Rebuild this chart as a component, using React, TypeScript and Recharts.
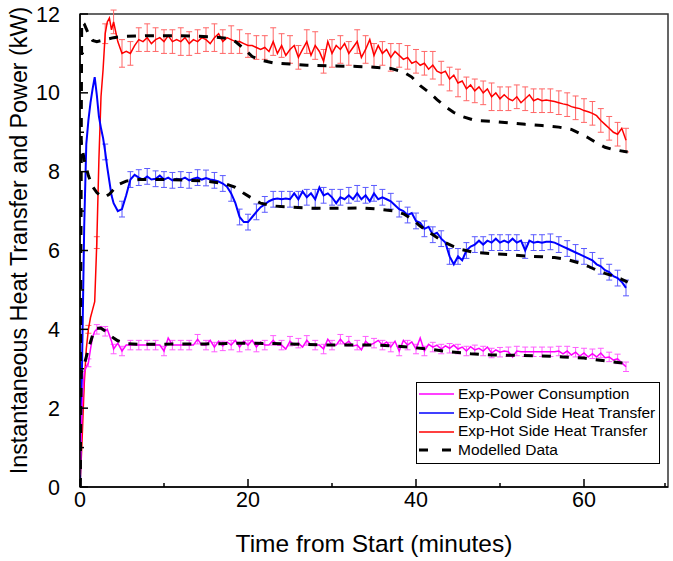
import React from 'react';
import { LineChart, Line, XAxis, YAxis, ErrorBar, ReferenceArea, Legend } from 'recharts';

// [minutes, kW]
const hotSide: [number, number][] = [
  [0, 0], [0.25, 1.2], [0.5, 2.6], [0.75, 3.5], [1, 4.0], [1.25, 4.3], [1.5, 4.5], [1.75, 4.7], [2, 6.2], [2.25, 8.3],
  [2.5, 9.9], [2.75, 10.6], [3, 11.5], [3.25, 11.8], [3.5, 11.9], [3.75, 11.6], [4, 11.8], [4.5, 11.3], [5, 11.0], [5.5, 11.05],
  [6, 11.0], [6.5, 11.2], [7, 11.35], [7.5, 11.3], [8, 11.4], [8.5, 11.25], [9, 11.35], [9.5, 11.4], [10, 11.3], [10.5, 11.45],
  [11, 11.3], [11.5, 11.35], [12, 11.3], [12.5, 11.4], [13, 11.25], [13.5, 11.35], [14, 11.3], [14.5, 11.4], [15, 11.35], [15.5, 11.25],
  [16, 11.4], [16.5, 11.5], [17, 11.3], [17.5, 11.4], [18, 11.35], [18.5, 11.3], [19, 11.3], [19.5, 11.25], [20, 11.2], [20.5, 11.2],
  [21, 11.15], [21.5, 11.1], [22, 11.15], [22.5, 11.05], [23, 11.3], [23.5, 11.0], [24, 11.2], [24.5, 10.95], [25, 11.1], [25.5, 11.2],
  [26, 10.9], [26.5, 11.1], [27, 11.3], [27.5, 10.95], [28, 11.2], [28.5, 11.05], [29, 10.8], [29.5, 11.3], [30, 11.0], [30.5, 11.2],
  [31, 11.1], [31.5, 11.25], [32, 11.0], [32.5, 11.15], [33, 11.3], [33.5, 10.9], [34, 11.1], [34.5, 11.35], [35, 10.95], [35.5, 11.2],
  [36, 11.0], [36.5, 11.1], [37, 10.9], [37.5, 11.05], [38, 10.95], [38.5, 10.85], [39, 10.9], [39.5, 10.75], [40, 10.8], [40.5, 10.7],
  [41, 10.75], [41.5, 10.6], [42, 10.7], [42.5, 10.55], [43, 10.5], [43.5, 10.55], [44, 10.35], [44.5, 10.45], [45, 10.25], [45.5, 10.3],
  [46, 10.1], [46.5, 10.2], [47, 10.05], [47.5, 10.15], [48, 10.0], [48.5, 10.1], [49, 9.9], [49.5, 10.0], [50, 9.85], [50.5, 9.95],
  [51, 9.85], [51.5, 9.8], [52, 9.9], [52.5, 9.75], [53, 9.85], [53.5, 9.95], [54, 9.8], [54.5, 9.85], [55, 9.8], [55.5, 9.82],
  [56, 9.8], [56.5, 9.78], [57, 9.75], [57.5, 9.72], [58, 9.7], [58.5, 9.65], [59, 9.62], [59.5, 9.6], [60, 9.55], [60.5, 9.52],
  [61, 9.48], [61.5, 9.42], [62, 9.3], [62.5, 9.2], [63, 9.1], [63.5, 9.0], [64, 8.95], [64.5, 9.1], [65, 8.8],
];

const coldSide: [number, number][] = [
  [0, 0], [0.25, 3.2], [0.5, 6.6], [0.75, 8.7], [1, 9.3], [1.25, 9.75], [1.5, 10.1], [1.75, 10.4], [2, 9.95], [2.25, 9.4],
  [2.5, 9.1], [2.75, 8.85], [3, 8.5], [3.25, 8.1], [3.5, 7.75], [3.75, 7.4], [4, 7.2], [4.5, 7.0], [5, 7.05], [5.5, 7.4],
  [6, 7.8], [6.5, 7.92], [7, 7.85], [7.5, 7.8], [8, 7.88], [8.5, 7.8], [9, 7.82], [9.5, 7.9], [10, 7.8], [10.5, 7.85],
  [11, 7.78], [11.5, 7.82], [12, 7.8], [12.5, 7.85], [13, 7.78], [13.5, 7.82], [14, 7.85], [14.5, 7.8], [15, 7.84], [15.5, 7.8],
  [16, 7.78], [16.5, 7.75], [17, 7.7], [17.5, 7.62], [18, 7.45], [18.5, 7.2], [19, 6.85], [19.5, 6.72], [20, 6.72], [20.5, 6.85],
  [21, 6.98], [21.5, 7.1], [22, 7.17], [22.5, 7.25], [23, 7.3], [23.5, 7.32], [24, 7.3], [24.5, 7.32], [25, 7.3], [25.5, 7.45],
  [26, 7.3], [26.5, 7.5], [27, 7.35], [27.5, 7.45], [28, 7.3], [28.5, 7.6], [29, 7.4], [29.5, 7.45], [30, 7.35], [30.5, 7.2],
  [31, 7.35], [31.5, 7.3], [32, 7.4], [32.5, 7.3], [33, 7.45], [33.5, 7.3], [34, 7.4], [34.5, 7.25], [35, 7.45], [35.5, 7.3],
  [36, 7.35], [36.5, 7.3], [37, 7.25], [37.5, 7.15], [38, 7.05], [38.5, 7.0], [39, 6.9], [39.5, 6.95], [40, 6.75], [40.5, 6.7],
  [41, 6.55], [41.5, 6.6], [42, 6.4], [42.5, 6.45], [43, 6.3], [43.5, 6.2], [44, 5.85], [44.5, 5.65], [45, 5.85], [45.5, 5.75],
  [46, 6.0], [46.5, 6.1], [47, 6.15], [47.5, 6.25], [48, 6.15], [48.5, 6.25], [49, 6.2], [49.5, 6.3], [50, 6.2], [50.5, 6.25],
  [51, 6.2], [51.5, 6.3], [52, 6.2], [52.5, 6.25], [53, 6.0], [53.5, 6.25], [54, 6.2], [54.5, 6.22], [55, 6.2], [55.5, 6.22],
  [56, 6.22], [56.5, 6.2], [57, 6.15], [57.5, 6.1], [58, 6.05], [58.5, 6.0], [59, 5.95], [59.5, 5.9], [60, 5.85], [60.5, 5.8],
  [61, 5.75], [61.5, 5.65], [62, 5.6], [62.5, 5.5], [63, 5.45], [63.5, 5.35], [64, 5.3], [64.5, 5.2], [65, 5.05],
];

const powerUse: [number, number][] = [
  [0, 0.3], [0.25, 2.0], [0.5, 2.9], [0.75, 3.05], [1, 3.15], [1.25, 3.5], [1.5, 3.8], [1.75, 3.95], [2, 4.0], [2.25, 4.05],
  [2.5, 4.07], [2.75, 4.0], [3, 3.95], [3.25, 4.0], [3.5, 3.85], [3.75, 3.7], [4, 3.5], [4.5, 3.65], [5, 3.45], [5.5, 3.6],
  [6, 3.6], [6.5, 3.6], [7, 3.6], [7.5, 3.6], [8, 3.6], [8.5, 3.6], [9, 3.6], [9.5, 3.6], [10, 3.45], [10.5, 3.78],
  [11, 3.6], [11.5, 3.6], [12, 3.6], [12.5, 3.6], [13, 3.6], [13.5, 3.6], [14, 3.75], [14.5, 3.6], [15, 3.6], [15.5, 3.72],
  [16, 3.55], [16.5, 3.7], [17, 3.58], [17.5, 3.68], [18, 3.6], [18.5, 3.72], [19, 3.55], [19.5, 3.7], [20, 3.6], [20.5, 3.72],
  [21, 3.55], [21.5, 3.68], [22, 3.6], [22.5, 3.6], [23, 3.72], [23.5, 3.6], [24, 3.6], [24.5, 3.5], [25, 3.7], [25.5, 3.6],
  [26, 3.65], [26.5, 3.55], [27, 3.72], [27.5, 3.6], [28, 3.6], [28.5, 3.6], [29, 3.5], [29.5, 3.75], [30, 3.6], [30.5, 3.6],
  [31, 3.75], [31.5, 3.62], [32, 3.7], [32.5, 3.58], [33, 3.6], [33.5, 3.48], [34, 3.7], [34.5, 3.6], [35, 3.65], [35.5, 3.72],
  [36, 3.6], [36.5, 3.68], [37, 3.55], [37.5, 3.7], [38, 3.45], [38.5, 3.72], [39, 3.6], [39.5, 3.68], [40, 3.5], [40.5, 3.78],
  [41, 3.45], [41.5, 3.62], [42, 3.55], [42.5, 3.6], [43, 3.5], [43.5, 3.58], [44, 3.52], [44.5, 3.6], [45, 3.5], [45.5, 3.55],
  [46, 3.45], [46.5, 3.56], [47, 3.48], [47.5, 3.52], [48, 3.45], [48.5, 3.55], [49, 3.4], [49.5, 3.48], [50, 3.42], [50.5, 3.45],
  [51, 3.43], [51.5, 3.3], [52, 3.45], [52.5, 3.43], [53, 3.43], [53.5, 3.43], [54, 3.43], [54.5, 3.43], [55, 3.43], [55.5, 3.43],
  [56, 3.43], [56.5, 3.43], [57, 3.45], [57.5, 3.38], [58, 3.45], [58.5, 3.35], [59, 3.42], [59.5, 3.32], [60, 3.4], [60.5, 3.3],
  [61, 3.38], [61.5, 3.3], [62, 3.4], [62.5, 3.28], [63, 3.3], [63.5, 3.22], [64, 3.25], [64.5, 3.15], [65, 3.05],
];

// error bar half-heights, one per whole minute (1..65)
const hotErr = [
  0.1, 0.15, 0.25, 0.3, 0.35, 0.3, 0.3, 0.35, 0.3, 0.3, 0.3, 0.35, 0.3, 0.3, 0.3, 0.35, 0.3, 0.35, 0.3, 0.3,
  0.3, 0.3, 0.35, 0.3, 0.35, 0.3, 0.3, 0.35, 0.3, 0.35, 0.35, 0.3, 0.3, 0.35, 0.3, 0.3, 0.35, 0.3, 0.3, 0.3,
  0.3, 0.35, 0.3, 0.3, 0.35, 0.3, 0.3, 0.3, 0.35, 0.3, 0.3, 0.3, 0.3, 0.3, 0.3, 0.3, 0.3, 0.3, 0.3, 0.3,
  0.3, 0.3, 0.3, 0.3, 0.3,
];
const coldErr = [
  0, 0, 0.2, 0, 0.2, 0.2, 0.2, 0.2, 0.2, 0.2, 0.2, 0.2, 0.2, 0.2, 0.2, 0.2, 0.2, 0.2, 0.2, 0.2,
  0.2, 0.2, 0.2, 0.2, 0.2, 0.2, 0.2, 0.25, 0.2, 0.2, 0.2, 0.2, 0.2, 0.2, 0.2, 0.2, 0.2, 0.2, 0.2, 0.2,
  0.2, 0.2, 0.2, 0.2, 0.2, 0.2, 0.2, 0.2, 0.2, 0.2, 0.2, 0.2, 0.2, 0.2, 0.2, 0.2, 0.2, 0.2, 0.2, 0.2,
  0.2, 0.2, 0.2, 0.2, 0.2,
];
const powerErr = [
  0.1, 0.12, 0.12, 0.12, 0.12, 0.12, 0.12, 0.12, 0.12, 0.12, 0.12, 0.12, 0.12, 0.12, 0.12, 0.12, 0.12, 0.12, 0.12, 0.12,
  0.12, 0.12, 0.12, 0.12, 0.12, 0.12, 0.12, 0.12, 0.12, 0.12, 0.12, 0.12, 0.12, 0.12, 0.12, 0.12, 0.12, 0.12, 0.12, 0.12,
  0.12, 0.12, 0.12, 0.12, 0.12, 0.12, 0.12, 0.12, 0.12, 0.12, 0.12, 0.12, 0.12, 0.12, 0.12, 0.12, 0.12, 0.12, 0.12, 0.12,
  0.12, 0.12, 0.12, 0.12, 0.12,
];

const modelHot: [number, number][] = [
  [0, 0], [0.1, 6], [0.2, 11.8], [0.5, 11.75], [1, 11.5], [1.5, 11.33], [2, 11.3], [3, 11.35], [4, 11.4], [5, 11.43],
  [8, 11.45], [12, 11.45], [16, 11.42], [17.5, 11.38], [18.5, 11.3], [19.5, 11.12], [20.5, 10.92], [21.5, 10.83], [23, 10.76], [25, 10.73],
  [27, 10.7], [30, 10.68], [33, 10.67], [35, 10.65], [37, 10.62], [38.5, 10.53], [39.5, 10.4], [40.5, 10.18], [41.5, 10.02], [42.5, 9.83],
  [43.5, 9.65], [44.5, 9.5], [45.5, 9.4], [47, 9.3], [49, 9.28], [51, 9.24], [53, 9.2], [55, 9.17], [57, 9.13], [58.5, 9.07],
  [59.5, 8.97], [60.5, 8.86], [61.5, 8.73], [62.5, 8.62], [63.5, 8.56], [65.2, 8.5],
];

const modelCold: [number, number][] = [
  [0, 0], [0.1, 8.8], [0.5, 8.3], [1, 7.9], [1.5, 7.62], [2, 7.47], [2.5, 7.38], [3, 7.36], [3.5, 7.43], [4, 7.55],
  [4.5, 7.67], [5.5, 7.76], [7, 7.8], [10, 7.8], [13, 7.78], [15, 7.76], [16.5, 7.72], [17.5, 7.68], [18.5, 7.6], [19.5, 7.45],
  [20.5, 7.32], [21.5, 7.2], [23, 7.13], [25, 7.1], [28, 7.07], [31, 7.07], [33.5, 7.08], [35.5, 7.05], [37.5, 7.0], [38.5, 6.93],
  [39.5, 6.8], [40.5, 6.62], [41.5, 6.47], [42.5, 6.33], [43.5, 6.2], [44.5, 6.1], [45.5, 6.02], [47, 5.95], [49, 5.92], [51, 5.9],
  [53, 5.86], [55, 5.84], [56.5, 5.82], [58, 5.77], [59.5, 5.68], [60.5, 5.6], [61.5, 5.5], [62.5, 5.42], [63.5, 5.35], [64.5, 5.27],
  [65.2, 5.2],
];

const modelPower: [number, number][] = [
  [0, 0], [0.15, 2.9], [0.5, 3.1], [1, 3.5], [1.5, 3.85], [2, 4.03], [2.5, 4.03], [3, 3.96], [3.5, 3.86], [4, 3.78],
  [4.5, 3.71], [5.5, 3.64], [7, 3.62], [15, 3.63], [20, 3.65], [25, 3.63], [30, 3.6], [35, 3.6], [37.5, 3.58], [39, 3.55],
  [41.5, 3.5], [44, 3.43], [46.5, 3.38], [49, 3.35], [52, 3.34], [54.5, 3.33], [57.5, 3.3], [60, 3.27], [62.5, 3.2], [65.2, 3.13],
];

const xTicks = [0, 10, 20, 30, 40, 50, 60, 70];
const yTicks = [0, 1, 2, 3, 4, 5, 6, 7, 8, 9, 10, 11, 12];

const legendItems = [
  { label: 'Exp-Power Consumption', color: '#ff00ff', dashed: false },
  { label: 'Exp-Cold Side Heat Transfer', color: '#0000ff', dashed: false },
  { label: 'Exp-Hot Side Heat Transfer', color: '#ff0000', dashed: false },
  { label: 'Modelled Data', color: '#000000', dashed: true },
];

const FONT = '"Liberation Sans", Arial, sans-serif';

const toRows = (pts: [number, number][], err?: number[]) =>
  pts.map(([t, v]) => ({
    t,
    v,
    e: err && Number.isInteger(t) && t >= 1 ? err[t - 1] : undefined,
  }));

const XTick = (props: any) => {
  const { x, y, payload } = props;
  const major = payload.value % 20 === 0;
  return (
    <g>
      <line x1={x} x2={x} y1={y} y2={y - (major ? 8 : 4)} stroke="#000" strokeWidth={1.5} />
      {major && payload.value < 70 && (
        <text x={x} y={y + 20} textAnchor="middle" fontSize={21.5} fontFamily={FONT} fill="#000">
          {payload.value}
        </text>
      )}
    </g>
  );
};

const YTick = (props: any) => {
  const { x, y, payload } = props;
  const major = payload.value % 2 === 0;
  return (
    <g>
      <line x1={x} x2={x + (major ? 8 : 4)} y1={y} y2={y} stroke="#000" strokeWidth={1.5} />
      {major && (
        <text x={x - 20} y={y + 7.5} textAnchor="end" fontSize={21.5} fontFamily={FONT} fill="#000">
          {payload.value}
        </text>
      )}
    </g>
  );
};

const renderLegend = () => (
  <div
    style={{
      border: '1px solid #000',
      background: '#fff',
      padding: '2px 0 3px 1px',
      fontFamily: FONT,
      fontSize: 15.5,
      lineHeight: '18.7px',
      boxSizing: 'border-box',
      width: 244,
    }}
  >
    {legendItems.map((item) => (
      <div key={item.label} style={{ display: 'flex', alignItems: 'center' }}>
        <svg width={38} height={10} style={{ marginRight: 2 }}>
          <line
            x1={1}
            x2={36}
            y1={5}
            y2={5}
            stroke={item.color}
            strokeWidth={item.dashed ? 3 : 1.5}
            strokeDasharray={item.dashed ? '9 14' : undefined}
          />
        </svg>
        <span>{item.label}</span>
      </div>
    ))}
  </div>
);

export default function App() {
  return (
    <div style={{ position: 'absolute', left: 0, top: 0, background: '#fff' }}>
      <LineChart width={673} height={561} margin={{ top: 14, right: 5, bottom: 0, left: 0 }}>
        <XAxis
          type="number"
          dataKey="t"
          domain={[0, 70]}
          ticks={xTicks}
          allowDataOverflow
          height={74}
          tickSize={0}
          tickMargin={0}
          tickLine={false}
          tick={<XTick />}
          axisLine={{ stroke: '#000', strokeWidth: 1.5 }}
          label={{
            value: 'Time from Start (minutes)',
            position: 'insideBottom',
            offset: 9,
            fontSize: 24.5,
            fontFamily: FONT,
            fill: '#000',
          }}
        />
        <YAxis
          type="number"
          domain={[0, 12]}
          ticks={yTicks}
          allowDataOverflow
          width={80}
          tickSize={0}
          tickMargin={0}
          tickLine={false}
          tick={<YTick />}
          axisLine={{ stroke: '#000', strokeWidth: 1.5 }}
          label={{
            value: 'Instantaneous Heat Transfer and Power (kW)',
            angle: -90,
            position: 'insideLeft',
            offset: 0,
            dx: 19,
            dy: -10,
            fontSize: 23.3,
            fontFamily: FONT,
            fill: '#000',
            style: { textAnchor: 'middle' },
          }}
        />
        <ReferenceArea x1={0} x2={70} y1={0} y2={12} fill="none" stroke="#333" strokeWidth={1.5} />
        <Line data={toRows(hotSide, hotErr)} dataKey="v" stroke="#ff0000" strokeWidth={1.5} dot={false} isAnimationActive={false}>
          <ErrorBar dataKey="e" width={3} stroke="#ff6666" strokeWidth={1} />
        </Line>
        <Line data={toRows(coldSide, coldErr)} dataKey="v" stroke="#0000ff" strokeWidth={2} dot={false} isAnimationActive={false}>
          <ErrorBar dataKey="e" width={3} stroke="#5a5aff" strokeWidth={1} />
        </Line>
        <Line data={toRows(powerUse, powerErr)} dataKey="v" stroke="#ff00ff" strokeWidth={1.5} dot={false} isAnimationActive={false}>
          <ErrorBar dataKey="e" width={3} stroke="#ff5cff" strokeWidth={1} />
        </Line>
        <Line data={toRows(modelHot)} dataKey="v" stroke="#000" strokeWidth={3} strokeDasharray="9 9" dot={false} isAnimationActive={false} />
        <Line data={toRows(modelCold)} dataKey="v" stroke="#000" strokeWidth={3} strokeDasharray="9 9" dot={false} isAnimationActive={false} />
        <Line data={toRows(modelPower)} dataKey="v" stroke="#000" strokeWidth={3} strokeDasharray="9 9" dot={false} isAnimationActive={false} />
        <Legend
          layout="vertical"
          align="center"
          verticalAlign="middle"
          content={renderLegend}
          wrapperStyle={{ left: 416, top: 382, width: 244, height: 'auto' }}
        />
      </LineChart>
    </div>
  );
}
